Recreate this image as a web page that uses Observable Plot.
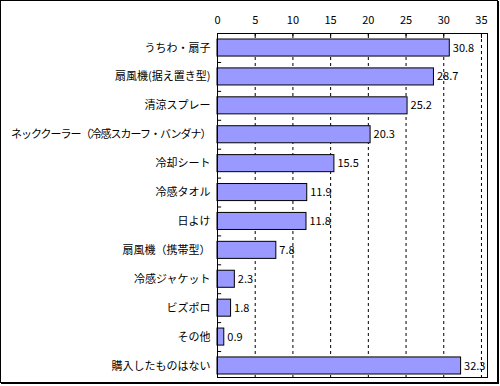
<!DOCTYPE html>
<html>
<head>
<meta charset="utf-8">
<script src="https://cdn.jsdelivr.net/npm/d3@7"></script>
<script src="https://cdn.jsdelivr.net/npm/@observablehq/plot@0.6"></script>
<style>
  html, body { margin: 0; padding: 0; background: #fff; }
  #wrap { position: relative; width: 500px; height: 386px; overflow: hidden; }
  #border { position: absolute; left: 0; top: 0; width: 496px; height: 381px; border: 1px solid #000; box-shadow: 1px 1px 0 #000; pointer-events: none; }
  svg { font-family: "Noto Sans CJK JP", sans-serif; overflow: visible; }
</style>
</head>
<body>
<div id="wrap"><div id="border"></div></div>
<script>
const categories = [
  "うちわ・扇子",
  "扇風機(据え置き型)",
  "清涼スプレー",
  "ネッククーラー（冷感スカーフ・バンダナ）",
  "冷却シート",
  "冷感タオル",
  "日よけ",
  "扇風機（携帯型）",
  "冷感ジャケット",
  "ビズポロ",
  "その他",
  "購入したものはない"
];
const values = [30.8, 28.7, 25.2, 20.3, 15.5, 11.9, 11.8, 7.8, 2.3, 1.8, 0.9, 32.3];
const xTicks = [0, 5, 10, 15, 20, 25, 30, 35];
const gridTicks = [5, 10, 15, 20, 25, 30, 35];

const data = categories.map((c, i) => ({category: c, value: values[i]}));

const chart = Plot.plot({
  width: 500,
  height: 386,
  marginLeft: 217,
  marginRight: 13,
  marginTop: 33,
  marginBottom: 9,
  style: {fontSize: "11px", fontFamily: "'Noto Sans CJK JP', sans-serif", color: "#000", background: "transparent"},
  x: {domain: [0, 35.8]},
  y: {domain: categories, range: [39, 374], paddingInner: 0.41, paddingOuter: 0, round: false, label: null},
  marks: [
    Plot.ruleX(gridTicks, {x: d => d, stroke: "#000", strokeDasharray: "3,3", strokeWidth: 1}),
    Plot.barX(data, {x: "value", y: "category", fill: "#9999ff", stroke: "#000", strokeWidth: 1}),
    Plot.text(data, {x: "value", y: "category", text: d => d.value.toFixed(1), textAnchor: "start", dx: 3, fill: "#000", fontSize: 11}),
    Plot.ruleY(categories.slice(0, -1), {y: d => d, x1: 0, x2: 0.55, dy: 14.45, stroke: "#000"}),
    Plot.axisX(xTicks, {anchor: "top", tickSize: -4, tickPadding: 14, label: null, fontSize: 11, stroke: "#000"}),
    Plot.axisY({tickSize: 0, tickPadding: 7, label: null, fontSize: 11}),
    Plot.frame({stroke: "#000"})
  ]
});
d3.select(chart).selectAll("text")
  .filter(function() { return this.textContent.length > 15; })
  .attr("letter-spacing", "-1px");
document.getElementById("wrap").prepend(chart);
</script>
</body>
</html>
